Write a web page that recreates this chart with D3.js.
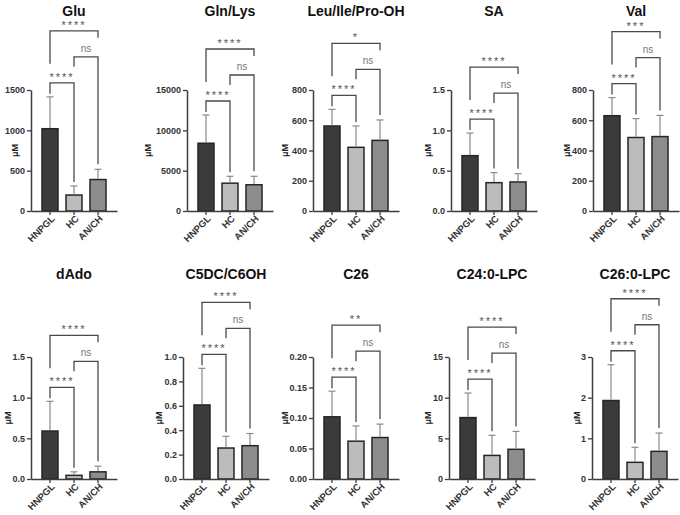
<!DOCTYPE html>
<html>
<head>
<meta charset="utf-8">
<script src="https://cdn.jsdelivr.net/npm/d3@7"></script>
<style>
  body { margin: 0; background: #fff; }
  text { font-family: "Liberation Sans", Arial, sans-serif; }
</style>
</head>
<body>
<svg id="chart" width="680" height="515"></svg>
<script>
let groups = ["HNPGL", "HC", "AN/CH"];
let titles = ["Glu", "Gln/Lys", "Leu/Ile/Pro-OH", "SA", "Val",
              "dAdo", "C5DC/C6OH", "C26", "C24:0-LPC", "C26:0-LPC"];

// mean and SD per group (HNPGL, HC, AN/CH)
let means = [
  [1020, 198, 390],
  [8400, 3450, 3250],
  [562, 421, 467],
  [0.686, 0.351, 0.36],
  [630, 486, 492],
  [0.59, 0.045, 0.088],
  [0.607, 0.254, 0.273],
  [0.102, 0.062, 0.068],
  [7.55, 2.9, 3.65],
  [1.93, 0.41, 0.68]
];
let sds = [
  [395, 112, 127],
  [3500, 850, 1050],
  [110, 141, 135],
  [0.28, 0.125, 0.103],
  [120, 125, 140],
  [0.365, 0.043, 0.07],
  [0.30, 0.096, 0.10],
  [0.042, 0.025, 0.022],
  [3.02, 2.47, 2.2],
  [0.88, 0.37, 0.45]
];

let yMax = [1500, 15000, 800, 1.5, 800, 1.5, 1.0, 0.20, 15, 3];
let tickStep = [500, 5000, 200, 0.5, 200, 0.5, 0.2, 0.05, 5, 1];
let tickDecimals = [0, 0, 0, 1, 0, 1, 1, 2, 0, 0];

// significance: HNPGL vs AN/CH, HC vs AN/CH, HNPGL vs HC
let sigOuter = ["****", "****", "*", "****", "***", "****", "****", "**", "****", "****"];
let sigMiddle = ["ns", "ns", "ns", "ns", "ns", "ns", "ns", "ns", "ns", "ns"];
let sigInner = ["****", "****", "****", "****", "****", "****", "****", "****", "****", "****"];

// layout
let axisX = [31, 187, 313, 451, 593, 31, 183, 313, 449, 592];
let labelOffset = [16, 39, 28, 23, 26, 23, 24, 28, 21, 15];
let rows = [{ top: 90, base: 211, titleY: 16 }, { top: 357, base: 479, titleY: 279 }];
let fills = ["#3b3b3b", "#bcbcbc", "#8d8d8d"];
let lineColor = "#3d3d3d";

let svg = d3.select("#chart");

let drawPanel = (i) => {
  let row = rows[i < 5 ? 0 : 1];
  let ax = axisX[i];
  let y = d3.scaleLinear().domain([0, yMax[i]]).range([row.base, row.top]);
  let x = d3.scaleBand().domain(groups).range([ax, ax + 86])
    .paddingInner(1 / 3).paddingOuter(0.458);
  let cx = (name) => x(name) + x.bandwidth() / 2;
  let g = svg.append("g");

  // title
  g.append("text")
    .attr("x", ax + 43)
    .attr("y", row.titleY)
    .attr("text-anchor", "middle")
    .attr("font-size", 14)
    .attr("font-weight", "bold")
    .attr("fill", "#111")
    .text(titles[i]);

  // y axis
  let ticks = d3.range(0, yMax[i] + tickStep[i] / 2, tickStep[i]);
  let yAxis = g.append("g")
    .attr("transform", "translate(" + ax + ",0)")
    .call(d3.axisLeft(y).tickValues(ticks)
      .tickFormat(d3.format("." + tickDecimals[i] + "f"))
      .tickSize(4).tickSizeOuter(0).tickPadding(2));
  yAxis.select(".domain").attr("stroke", lineColor).attr("stroke-width", 1.5);
  yAxis.selectAll(".tick line").attr("stroke", lineColor).attr("stroke-width", 1.3);
  yAxis.selectAll(".tick text")
    .attr("font-size", 9)
    .attr("font-weight", "bold")
    .attr("fill", "#333")
    .style("font-family", "Liberation Sans, Arial, sans-serif");

  // y label
  g.append("text")
    .attr("transform", "translate(" + (ax - labelOffset[i]) + "," + ((row.top + row.base) / 2) + ") rotate(-90)")
    .attr("text-anchor", "middle")
    .attr("dy", "0.35em")
    .attr("font-size", 9)
    .attr("font-weight", "bold")
    .attr("fill", "#222")
    .text("μM");

  // bars
  g.selectAll("rect.bar")
    .data(groups)
    .enter()
    .append("rect")
    .attr("class", "bar")
    .attr("x", (d) => x(d))
    .attr("width", x.bandwidth())
    .attr("y", (d, j) => y(means[i][j]))
    .attr("height", (d, j) => row.base - y(means[i][j]))
    .attr("fill", (d, j) => fills[j])
    .attr("stroke", "#262626")
    .attr("stroke-width", 1.5);

  // error bars (upper only)
  groups.forEach((name, j) => {
    let top = y(means[i][j] + sds[i][j]);
    g.append("line")
      .attr("x1", cx(name)).attr("x2", cx(name))
      .attr("y1", y(means[i][j]) - 0.75).attr("y2", top)
      .attr("stroke", "#8a8a8a").attr("stroke-width", 1.2);
    g.append("line")
      .attr("x1", cx(name) - 3.5).attr("x2", cx(name) + 3.5)
      .attr("y1", top).attr("y2", top)
      .attr("stroke", "#8a8a8a").attr("stroke-width", 1.2);
  });

  // x axis
  let xAxis = g.append("g")
    .attr("transform", "translate(0," + row.base + ")")
    .call(d3.axisBottom(x).tickSize(4).tickSizeOuter(0));
  xAxis.select(".domain").attr("stroke", lineColor).attr("stroke-width", 1.5);
  xAxis.selectAll(".tick line").attr("stroke", lineColor).attr("stroke-width", 1.3);
  xAxis.selectAll(".tick text")
    .attr("x", 0).attr("y", 0).attr("dy", "0.35em")
    .attr("transform", "translate(3,6) rotate(-45)")
    .attr("text-anchor", "end")
    .attr("font-size", 9.5)
    .attr("font-weight", "bold")
    .attr("fill", "#333")
    .style("font-family", "Liberation Sans, Arial, sans-serif");

  // significance brackets
  let topOf = (j) => y(means[i][j] + sds[i][j]);
  let innerY = topOf(0) - 14;
  let midY = innerY - 26;
  let outerY = innerY - 52;
  let brackets = [
    { a: 0, b: 2, yy: outerY, aEnd: innerY - 19, bEnd: midY - 19, label: sigOuter[i] },
    { a: 1, b: 2, yy: midY, aEnd: innerY - 16, bEnd: topOf(2) - 5, label: sigMiddle[i] },
    { a: 0, b: 1, yy: innerY, aEnd: topOf(0) - 3, bEnd: topOf(1) - 4, label: sigInner[i] }
  ];
  brackets.forEach((br) => {
    let x1 = cx(groups[br.a]);
    let x2 = cx(groups[br.b]);
    g.append("path")
      .attr("d", "M" + x1 + "," + br.aEnd + "V" + br.yy + "H" + x2 + "V" + br.bEnd)
      .attr("fill", "none")
      .attr("stroke", "#4a4a4a")
      .attr("stroke-width", 1.3);
    let isNs = br.label === "ns";
    g.append("text")
      .attr("x", (x1 + x2) / 2)
      .attr("y", isNs ? br.yy - 5 : br.yy - 2)
      .attr("text-anchor", "middle")
      .attr("font-size", isNs ? 10 : 11)
      .attr("letter-spacing", isNs ? 0 : 2)
      .attr("fill", isNs ? "#777" : "#555")
      .text(br.label);
  });
};

titles.forEach((t, i) => drawPanel(i));
</script>
</body>
</html>
